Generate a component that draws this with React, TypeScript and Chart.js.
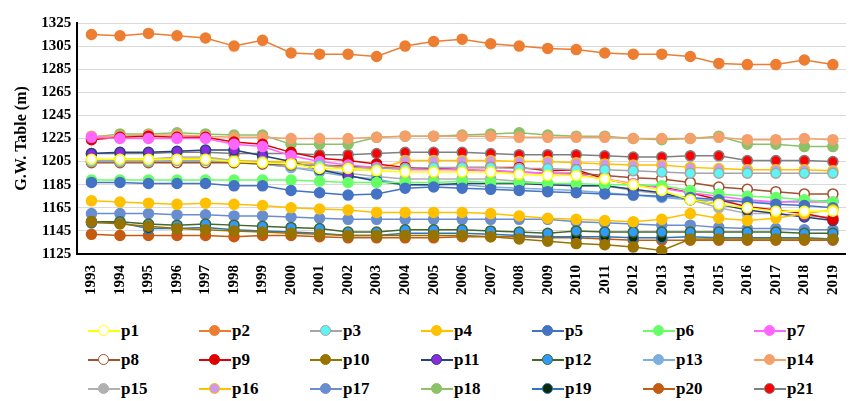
import { useEffect, useRef } from 'react';
import { Chart, registerables } from 'chart.js';

Chart.register(...registerables);

const years = ['1993','1994','1995','1996','1997','1998','1999','2000','2001','2002','2003','2004','2005','2006','2007','2008','2009','2010','2011','2012','2013','2014','2015','2016','2017','2018','2019'];
const yTicks = [1125, 1145, 1165, 1185, 1205, 1225, 1245, 1265, 1285, 1305, 1325];

const p1 = [1207,1207,1207,1207,1207,1205,1204,1203,1199,1199,1197,1196,1196,1196,1196,1194,1193,1193,1190,1185,1180,1172,1168,1165,1162,1162,1162];
const p2 = [1315,1314,1316,1314,1312,1305,1310,1299,1298,1298,1296,1305,1309,1311,1307,1305,1303,1302,1299,1298,1298,1296,1290,1289,1289,1293,1289];
const p3 = [1205,1205,1205,1206,1206,1205,1205,1203,1202,1200,1199,1199,1200,1200,1200,1199,1199,1198,1198,1197,1196,1195,1195,1195,1195,1195,1195];
const p4 = [1171,1170,1169,1168,1169,1168,1167,1165,1164,1163,1161,1161,1161,1161,1160,1158,1156,1155,1154,1153,1155,1160,1156,1154,1156,1160,1163];
const p5 = [1187,1187,1186,1186,1186,1184,1184,1180,1178,1176,1177,1182,1183,1182,1181,1180,1179,1178,1177,1176,1175,1174,1172,1170,1168,1167,1165];
const p6 = [1189,1189,1189,1189,1189,1189,1189,1189,1188,1187,1187,1187,1187,1188,1187,1187,1186,1186,1185,1185,1184,1180,1177,1175,1174,1172,1170];
const p7 = [1226,1225,1225,1225,1225,1220,1218,1210,1205,1202,1200,1198,1198,1198,1197,1196,1195,1194,1190,1186,1182,1178,1175,1172,1170,1170,1170];
const p8 = [1204,1204,1204,1204,1204,1204,1203,1202,1202,1201,1200,1199,1199,1198,1197,1196,1195,1195,1193,1191,1190,1187,1183,1181,1179,1177,1177];
const p9 = [1224,1226,1227,1226,1226,1222,1220,1213,1208,1206,1203,1200,1199,1200,1200,1200,1197,1198,1190,1185,1183,1178,1172,1166,1163,1160,1155];
const p10 = [1153,1151,1149,1147,1146,1145,1144,1143,1142,1141,1141,1141,1141,1141,1140,1138,1136,1134,1133,1131,1128,1138,1138,1138,1138,1138,1138];
const p11 = [1212,1213,1213,1214,1215,1215,1210,1205,1198,1193,1188,1185,1185,1186,1186,1186,1185,1184,1184,1181,1178,1172,1168,1163,1160,1157,1154];
const p12 = [1153,1153,1151,1150,1151,1150,1149,1148,1147,1144,1144,1146,1146,1146,1145,1144,1143,1145,1144,1144,1144,1144,1144,1144,1144,1143,1143];
const p13 = [1207,1205,1205,1205,1205,1204,1203,1200,1196,1192,1190,1185,1185,1185,1183,1182,1181,1180,1178,1176,1174,1172,1171,1170,1170,1171,1171];
const p14 = [1227,1227,1228,1228,1227,1226,1226,1225,1225,1225,1226,1227,1227,1227,1227,1226,1226,1226,1226,1225,1225,1225,1226,1224,1224,1225,1224];
const p15 = [1205,1207,1207,1209,1209,1206,1203,1200,1198,1195,1192,1190,1190,1190,1190,1188,1186,1184,1184,1180,1177,1172,1165,1160,1160,1158,1157];
const p16 = [1206,1206,1206,1208,1208,1206,1205,1205,1203,1198,1198,1206,1206,1206,1206,1205,1205,1204,1203,1202,1202,1200,1199,1198,1198,1198,1197];
const p17 = [1160,1160,1160,1159,1159,1158,1158,1157,1156,1155,1155,1155,1155,1155,1155,1155,1155,1153,1152,1151,1150,1150,1148,1147,1147,1146,1146];
const p18 = [1226,1229,1229,1230,1229,1228,1228,1220,1220,1220,1226,1227,1227,1228,1229,1230,1228,1227,1227,1225,1224,1225,1227,1220,1220,1218,1218];
const p19 = [1152,1152,1147,1147,1148,1146,1145,1144,1143,1141,1141,1143,1143,1143,1142,1141,1140,1140,1140,1139,1139,1140,1139,1139,1139,1139,1138];
const p20 = [1142,1141,1141,1141,1141,1140,1141,1141,1140,1139,1139,1139,1139,1140,1140,1140,1139,1139,1138,1137,1137,1137,1137,1137,1137,1137,1137];
const p21 = [1212,1212,1212,1213,1213,1212,1212,1212,1211,1211,1212,1213,1213,1213,1212,1211,1211,1211,1210,1209,1209,1210,1210,1206,1206,1206,1205];

// name, values, line colour, point fill, point border
const series: [string, number[], string, string, string][] = [
  ['p1', p1, '#ffff00', '#ffffff', '#ffff00'],
  ['p2', p2, '#ed7d31', '#ed7d31', '#ed7d31'],
  ['p3', p3, '#a5a5a5', '#5ff5f5', '#a5a5a5'],
  ['p4', p4, '#ffc000', '#ffc000', '#ffc000'],
  ['p5', p5, '#4472c4', '#4472c4', '#4472c4'],
  ['p6', p6, '#66ff66', '#66ff66', '#66ff66'],
  ['p7', p7, '#ff66ff', '#ff66ff', '#ff66ff'],
  ['p8', p8, '#a0522d', '#ffffff', '#a0522d'],
  ['p9', p9, '#e00000', '#e00000', '#e00000'],
  ['p10', p10, '#997300', '#997300', '#997300'],
  ['p11', p11, '#264478', '#8a2be2', '#264478'],
  ['p12', p12, '#43682b', '#2f9bff', '#43682b'],
  ['p13', p13, '#7cafdd', '#7cafdd', '#7cafdd'],
  ['p14', p14, '#f4a06a', '#f4a06a', '#f4a06a'],
  ['p15', p15, '#b0b0b0', '#b0b0b0', '#b0b0b0'],
  ['p16', p16, '#ffc000', '#cc99ee', '#ffc000'],
  ['p17', p17, '#698ed0', '#698ed0', '#698ed0'],
  ['p18', p18, '#8cc168', '#8cc168', '#8cc168'],
  ['p19', p19, '#2e75b6', '#0a2a0a', '#2e75b6'],
  ['p20', p20, '#c55a11', '#c55a11', '#c55a11'],
  ['p21', p21, '#7f7f7f', '#ff0000', '#7f7f7f'],
];

const font = '"Liberation Serif", "Times New Roman", serif';

export default function App() {
  const canvasRef = useRef<HTMLCanvasElement>(null);

  useEffect(() => {
    if (!canvasRef.current) return;
    const chart = new Chart(canvasRef.current, {
      type: 'line',
      data: {
        labels: years,
        datasets: series.map(([name, data, line, fill, border]) => ({
          label: name,
          data,
          borderColor: line,
          backgroundColor: fill,
          pointBackgroundColor: fill,
          pointBorderColor: border,
          pointBorderWidth: 1.5,
          pointRadius: 5,
          borderWidth: 1.5,
          tension: 0,
        })),
      },
      options: {
        animation: false,
        responsive: false,
        layout: { padding: { top: 13, right: 6 } },
        plugins: { legend: { display: false }, tooltip: { enabled: false } },
        scales: {
          x: {
            offset: true,
            grid: { display: false },
            border: { color: '#000', width: 2 },
            ticks: { color: '#000', font: { family: font, size: 15, weight: 'bold' }, maxRotation: 90, minRotation: 90, autoSkip: false },
          },
          y: {
            min: 1125,
            max: 1325,
            afterBuildTicks: (axis) => { axis.ticks = yTicks.map(v => ({ value: v })); },
            grid: { color: '#d9d9d9', drawTicks: false },
            border: { color: '#000', width: 2 },
            ticks: { color: '#000', padding: 6, font: { family: font, size: 15, weight: 'bold' }, callback: (v) => String(v) },
            title: { display: true, text: 'G.W. Table (m)', color: '#000', font: { family: font, size: 16, weight: 'bold' } },
          },
        },
      },
    });
    return () => chart.destroy();
  }, []);

  return (
    <div style={{ fontFamily: font }}>
      <canvas ref={canvasRef} width={846} height={290} />
      <div style={{ display: 'grid', gridTemplateColumns: 'repeat(7, 111px)', rowGap: 7, marginLeft: 80, marginTop: 22 }}>
        {series.map(([name, , line, fill, border]) => (
          <div key={name} style={{ display: 'flex', alignItems: 'center', height: 22 }}>
            <div style={{ position: 'relative', width: 32, height: 12 }}>
              <div style={{ position: 'absolute', left: 0, right: 0, top: 5, height: 2, background: line }} />
              <div style={{ position: 'absolute', left: 10, top: 0, width: 9, height: 9, borderRadius: '50%', background: fill, border: `1.5px solid ${border}` }} />
            </div>
            <span style={{ fontWeight: 'bold', fontSize: 17, marginLeft: 1 }}>{name}</span>
          </div>
        ))}
      </div>
    </div>
  );
}
